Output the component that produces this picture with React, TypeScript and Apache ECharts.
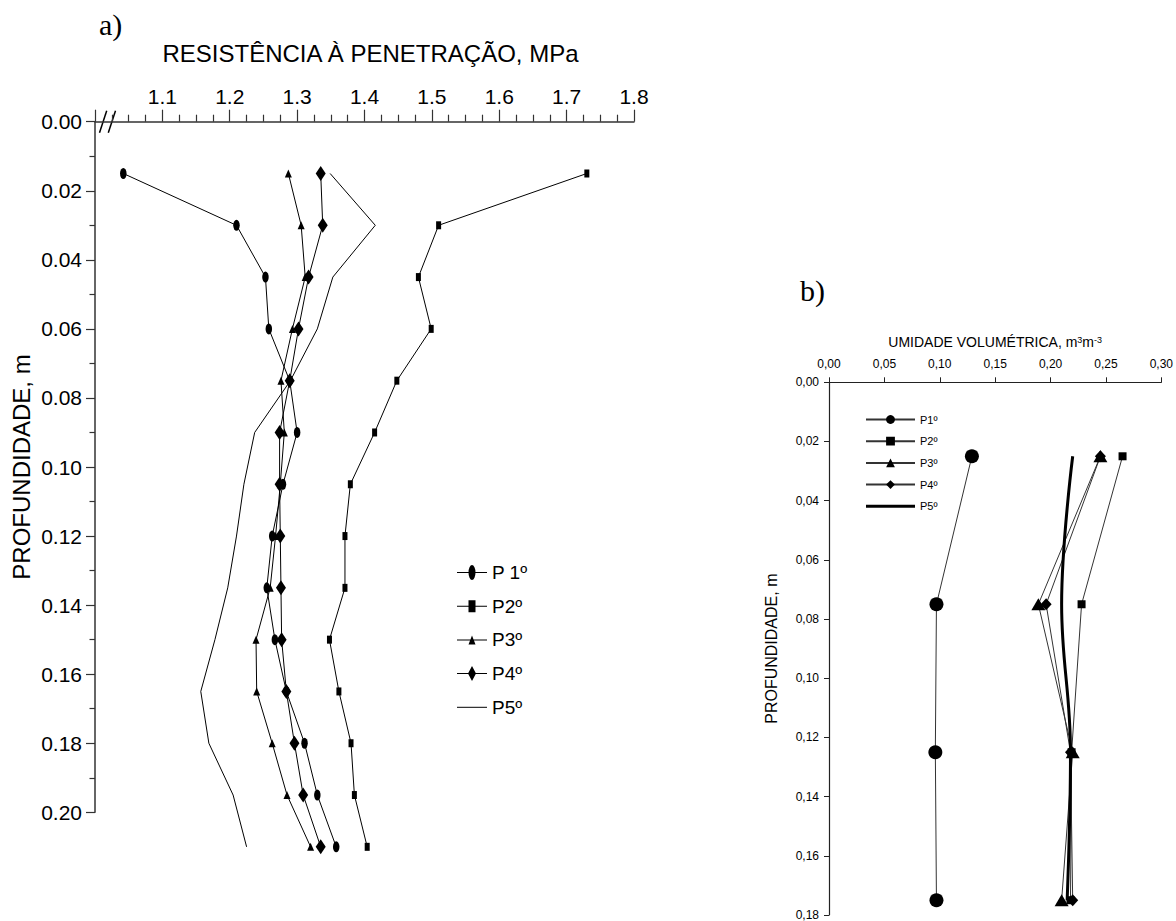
import React, { useEffect, useRef } from "react";
import * as echarts from "echarts";

// ---- Panel a) : penetration resistance (MPa) vs depth (m)
const depthA = [0.015, 0.03, 0.045, 0.06, 0.075, 0.09, 0.105, 0.12, 0.135, 0.15, 0.165, 0.18, 0.195, 0.21];
const p1A = [1.042, 1.21, 1.253, 1.258, 1.289, 1.3, 1.279, 1.263, 1.255, 1.267, 1.284, 1.311, 1.33, 1.358];
const p2A = [1.73, 1.51, 1.48, 1.499, 1.448, 1.415, 1.379, 1.371, 1.371, 1.348, 1.362, 1.38, 1.385, 1.404];
const p3A = [1.287, 1.306, 1.312, 1.293, 1.276, 1.281, 1.275, 1.268, 1.26, 1.239, 1.24, 1.263, 1.285, 1.32];
const p4A = [1.335, 1.338, 1.317, 1.302, 1.289, 1.274, 1.274, 1.275, 1.276, 1.277, 1.284, 1.296, 1.309, 1.335];
const p5A = [1.349, 1.416, 1.353, 1.33, 1.29, 1.237, 1.221, 1.21, 1.197, 1.178, 1.157, 1.169, 1.205, 1.225];
const namesA = ["P 1º", "P2º", "P3º", "P4º", "P5º"];

// ---- Panel b) : volumetric moisture (m3 m-3) vs depth (m)
const depthB = [0.025, 0.075, 0.125, 0.175];
const p1B = [0.129, 0.097, 0.096, 0.097];
const p2B = [0.265, 0.228, 0.219, 0.218];
const p3B = [0.245, 0.189, 0.22, 0.21];
const p4B = [0.245, 0.196, 0.218, 0.22];
const p5B = [0.22, 0.21, 0.218, 0.215];
const namesB = ["P1º", "P2º", "P3º", "P4º", "P5º"];

const FONT = "'Liberation Sans', Arial, sans-serif";
const ELLIPSE = "path://M0,-1A1,1,0,1,1,0,1A1,1,0,1,1,0,-1Z";

const iconsA = [
  "path://M0,0M30,15M0,7L30,7L30,8L0,8Z M11.5,7.5A3.5,7.5,0,1,1,18.5,7.5A3.5,7.5,0,1,1,11.5,7.5Z",
  "path://M0,0M30,15M0,7L30,7L30,8L0,8Z M11.5,1.5L18.5,1.5L18.5,13.5L11.5,13.5Z",
  "path://M0,0M30,15M0,7L30,7L30,8L0,8Z M15,3L18.5,12L11.5,12Z",
  "path://M0,0M30,15M0,7L30,7L30,8L0,8Z M15,0L19,7.5L15,15L11,7.5Z",
  "path://M0,0M30,15M0,7L30,7L30,8L0,8Z",
];

const pairs = (xs: number[], ys: number[]) => xs.map((v, i) => [v, ys[i]]);

export default function App() {
  const ref = useRef<HTMLDivElement>(null);
  useEffect(() => {
    if (!ref.current) return;
    const chart = echarts.init(ref.current, undefined, { renderer: "svg" });
    const axisLine = { show: true, onZero: false, lineStyle: { color: "#333", width: 1.5 } };
    const seriesA = [p1A, p2A, p3A, p4A, p5A].map((arr, i) => ({
      type: "line",
      name: "a:" + namesA[i],
      xAxisIndex: 0,
      yAxisIndex: 0,
      data: pairs(arr, depthA),
      clip: false,
      symbol: [ELLIPSE, "rect", "triangle", "diamond", "none"][i],
      symbolSize: [[6.5, 11], [5, 8], [7, 8], [10, 15], 0][i],
      showSymbol: i !== 4,
      lineStyle: { color: "#000", width: 1 },
      itemStyle: { color: "#000" },
      emphasis: { disabled: true },
    }));
    const seriesB = [p1B, p2B, p3B, p4B, p5B].map((arr, i) => ({
      type: "line",
      name: "b:" + namesB[i],
      xAxisIndex: 1,
      yAxisIndex: 1,
      data: pairs(arr, depthB),
      clip: false,
      smooth: i === 4 ? 0.4 : false,
      symbol: ["circle", "rect", "triangle", "diamond", "none"][i],
      symbolSize: [14, 8, [14, 12], [11, 12], 0][i],
      showSymbol: i !== 4,
      lineStyle: { color: i === 4 ? "#000" : "#333", width: i === 4 ? 3 : 1 },
      itemStyle: { color: "#000" },
      emphasis: { disabled: true },
    }));
    chart.setOption({
      animation: false,
      textStyle: { fontFamily: FONT, color: "#000" },
      title: [
        { text: "a)", left: 94, top: 4, textStyle: { fontFamily: "'Liberation Serif', serif", fontSize: 30, fontWeight: "normal", color: "#000" } },
        { text: "b)", left: 795, top: 270, textStyle: { fontFamily: "'Liberation Serif', serif", fontSize: 30, fontWeight: "normal", color: "#000" } },
      ],
      grid: [
        { left: 95, top: 121.7, width: 539, height: 690.6 },
        { left: 829, top: 382.3, width: 332.7, height: 534.6 },
      ],
      xAxis: [
        {
          type: "value",
          gridIndex: 0,
          position: "top",
          min: 1.0,
          max: 1.8,
          interval: 0.1,
          name: "RESISTÊNCIA À PENETRAÇÃO, MPa",
          nameLocation: "middle",
          nameGap: 56,
          nameTextStyle: { fontSize: 24, color: "#000", padding: [0, 0, 0, 12] },
          axisLine,
          axisTick: { show: true, length: 12, lineStyle: { color: "#333", width: 1.2 } },
          minorTick: { show: true, splitNumber: 4, length: 7, lineStyle: { color: "#333", width: 1.2 } },
          splitLine: { show: false },
          axisLabel: {
            fontSize: 21,
            color: "#000",
            margin: 15,
            formatter: (v: number) => (Math.abs(v - 1) < 1e-9 ? "" : v.toFixed(1)),
          },
        },
        {
          type: "value",
          gridIndex: 1,
          position: "top",
          min: 0,
          max: 0.3,
          interval: 0.05,
          name: "UMIDADE VOLUMÉTRICA, m{sup|3}m{sup|-3}",
          nameLocation: "middle",
          nameGap: 33,
          nameTextStyle: {
            fontSize: 14,
            color: "#000",
            rich: { sup: { fontSize: 9, verticalAlign: "top", color: "#000", fontFamily: FONT } },
          },
          axisLine: { show: true, onZero: false, lineStyle: { color: "#222", width: 1.2 } },
          axisTick: { show: true, length: 5, lineStyle: { color: "#222" } },
          splitLine: { show: false },
          axisLabel: {
            fontSize: 12,
            color: "#000",
            margin: 12,
            formatter: (v: number) => v.toFixed(2).replace(".", ","),
          },
        },
      ],
      yAxis: [
        {
          type: "value",
          gridIndex: 0,
          inverse: true,
          min: 0,
          max: 0.2,
          interval: 0.02,
          name: "PROFUNDIDADE, m",
          nameLocation: "middle",
          nameGap: 62,
          nameTextStyle: { fontSize: 24, color: "#000" },
          axisLine,
          axisTick: { show: true, length: 9, lineStyle: { color: "#333", width: 1.2 } },
          minorTick: { show: true, splitNumber: 2, length: 5.5, lineStyle: { color: "#333", width: 1.2 } },
          splitLine: { show: false },
          axisLabel: { fontSize: 21, color: "#000", margin: 13, formatter: (v: number) => v.toFixed(2) },
        },
        {
          type: "value",
          gridIndex: 1,
          inverse: true,
          min: 0,
          max: 0.18,
          interval: 0.02,
          name: "PROFUNDIDADE, m",
          nameLocation: "middle",
          nameGap: 50,
          nameTextStyle: { fontSize: 16, color: "#000" },
          axisLine: { show: true, onZero: false, lineStyle: { color: "#222", width: 1.2 } },
          axisTick: { show: true, length: 5, lineStyle: { color: "#222" } },
          splitLine: { show: false },
          axisLabel: {
            fontSize: 12,
            color: "#000",
            margin: 10,
            formatter: (v: number) => v.toFixed(2).replace(".", ","),
          },
        },
      ],
      legend: [
        {
          orient: "vertical",
          left: 452,
          top: 558,
          itemWidth: 30,
          itemHeight: 15,
          itemGap: 14.7,
          selectedMode: false,
          textStyle: { fontSize: 19, color: "#000", fontFamily: FONT },
          itemStyle: { color: "#000", borderWidth: 0 },
          formatter: (n: string) => n.slice(2),
          data: namesA.map((n, i) => ({ name: "a:" + n, icon: iconsA[i] })),
        },
        {
          orient: "vertical",
          left: 860,
          top: 409,
          itemWidth: 49,
          itemHeight: 11,
          itemGap: 10.7,
          selectedMode: false,
          textStyle: { fontSize: 11, color: "#000", fontFamily: FONT },
          formatter: (n: string) => n.slice(2),
          data: namesB.map((n, i) =>
            i === 4
              ? { name: "b:" + n, icon: "path://M0,0M49,11M0,4L49,4L49,7L0,7Z", itemStyle: { color: "#000", borderWidth: 0 } }
              : { name: "b:" + n }
          ),
        },
      ],
      graphic: [
        { type: "line", shape: { x1: 99.5, y1: 132.7, x2: 106.7, y2: 110.7 }, style: { stroke: "#000", lineWidth: 1.5 } },
        { type: "line", shape: { x1: 108.3, y1: 132.7, x2: 115.5, y2: 110.7 }, style: { stroke: "#000", lineWidth: 1.5 } },
      ],
      series: [...seriesA, ...seriesB],
    });
    return () => chart.dispose();
  }, []);
  return (
    <div
      ref={ref}
      style={{ position: "fixed", left: 0, top: 0, width: 1176, height: 921, background: "#fff" }}
    />
  );
}
